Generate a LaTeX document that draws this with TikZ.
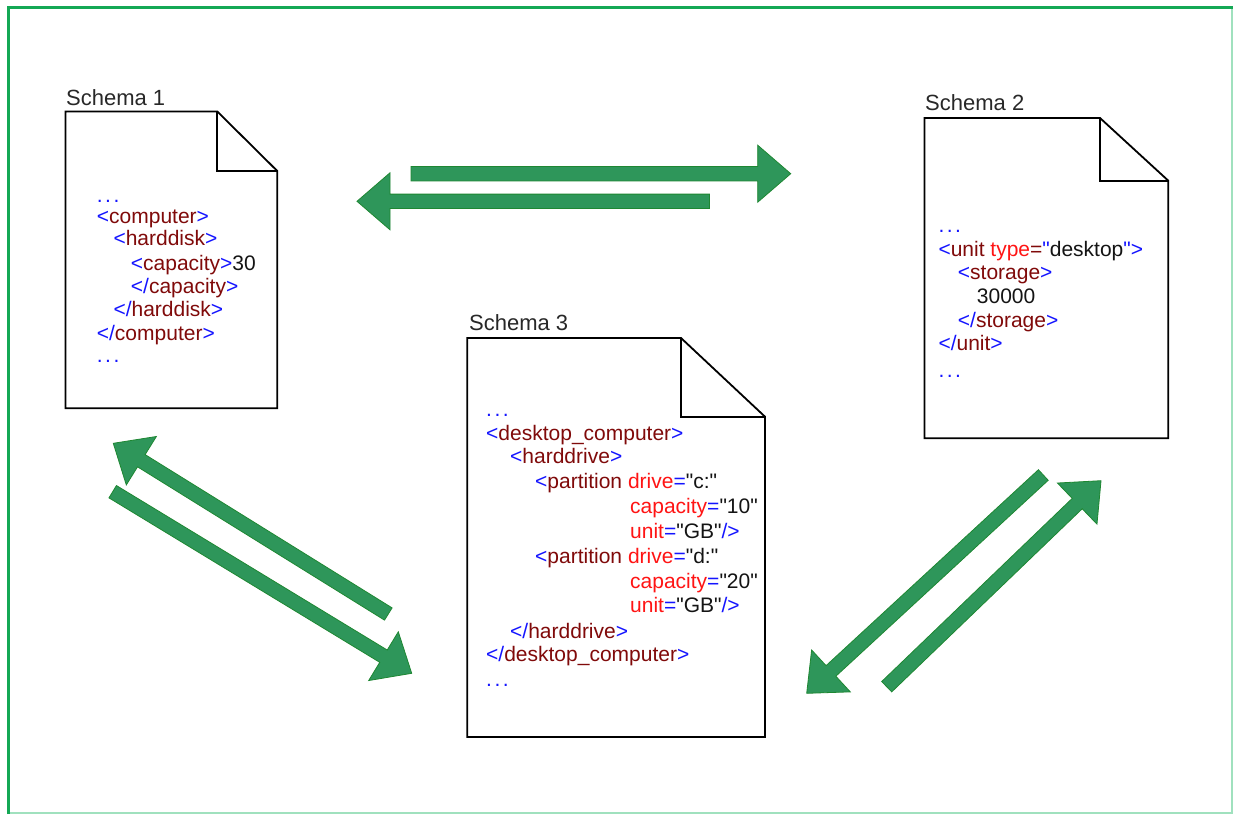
\documentclass[tikz,border=0pt]{standalone}
\usepackage{fontspec}
\setmainfont{Liberation Sans}[Ligatures=TeXOff]
\usetikzlibrary{calc,fit}

\definecolor{tagblue}{RGB}{20,20,255}
\definecolor{elemred}{RGB}{128,10,10}
\definecolor{attrred}{RGB}{255,20,20}
\definecolor{valblack}{RGB}{20,20,20}
\definecolor{labelgray}{RGB}{40,40,40}
\definecolor{arrowgreen}{RGB}{46,150,90}
\definecolor{arrowedge}{RGB}{30,135,50}
\definecolor{framedark}{RGB}{20,168,85}
\definecolor{framelight}{RGB}{160,225,190}

% colour helpers for the XML listings
\newcommand\xb[1]{\textcolor{tagblue}{#1}}
\newcommand\xe[1]{\textcolor{elemred}{#1}}
\newcommand\xa[1]{\textcolor{attrred}{#1}}
\newcommand\xv[1]{\textcolor{valblack}{#1}}
\newcommand\xdots{\xb{.\kern2.5pt.\kern2.5pt.}}

\tikzset{
  page/.style={draw=black, line width=1.8pt, line join=miter, fill=white},
  sheetbox/.style={inner sep=0pt, outer sep=0pt},
  title/.style={anchor=base west, inner sep=0pt, text=labelgray,
    font=\fontsize{22}{26}\selectfont},
  code/.style={anchor=base west, inner sep=0pt,
    font=\fontsize{21}{25}\selectfont},
  flow/.style={fill=arrowgreen, draw=arrowedge, line width=0.8pt, line join=miter},
}

% block arrow from tail coordinate #1 to tip coordinate #2
\newcommand\blockarrow[2]{%
  \coordinate (#1-hb) at ($(#2)!33pt!(#1)$);
  \filldraw[flow]
    ($(#1)!7.2pt!90:(#2)$) --
    ($(#1-hb)!7.2pt!-90:(#1)$) --
    ($(#1-hb)!28.5pt!-90:(#1)$) --
    (#2) --
    ($(#1-hb)!28.5pt!90:(#1)$) --
    ($(#1-hb)!7.2pt!90:(#1)$) --
    ($(#1)!7.2pt!-90:(#2)$) -- cycle;
}

% folded-corner sheet drawn over a fitted node
\newcommand\sheet[3]{% name, fold width, fold height
  \draw[page] (#1.north west) -- ($(#1.north east)+(-#2,0)$)
    -- ($(#1.north east)+(0,#3)$) -- (#1.south east)
    -- (#1.south west) -- cycle;
  \draw[page, fill=none] ($(#1.north east)+(-#2,0)$) |- ($(#1.north east)+(0,#3)$);
}

\begin{document}
\begin{tikzpicture}[x=1pt, y=-1pt]
\useasboundingbox (0,0) rectangle (1233,814);
\fill[white] (0,0) rectangle (1233,814);

% outer frame
\draw[framelight, line width=2pt] (1231.8,9) -- (1231.8,813) -- (9,813);
\draw[framedark, line width=2.6pt] (8.6,814) -- (8.6,7.4) -- (1233,7.4);

% sheets
\coordinate (s1nw) at (65.5,111.5);  \coordinate (s1se) at (277.3,408.3);
\coordinate (s2nw) at (924.5,118);   \coordinate (s2se) at (1168.3,438.3);
\coordinate (s3nw) at (467.3,338);   \coordinate (s3se) at (765,737);
\node[sheetbox, fit=(s1nw)(s1se)] (s1) {};
\node[sheetbox, fit=(s2nw)(s2se)] (s2) {};
\node[sheetbox, fit=(s3nw)(s3se)] (s3) {};
\sheet{s1}{60}{59.5}
\sheet{s2}{68.3}{62.7}
\sheet{s3}{84}{78.7}

\node[title] (t1) at (66,105.7) {Schema 1};
\node[title] (t2) at (925,110.7) {Schema 2};
\node[title] (t3) at (469,330.7) {Schema 3};

% Schema 1 listing
\node[code] (a1) at (96.7,202)  {\xdots};
\node[code] (a2) at (96.7,223.5)  {\xb{<}\xe{computer}\xb{>}};
\node[code] (a3) at (113.3,245.5) {\xb{<}\xe{harddisk}\xb{>}};
\node[code] (a4) at (130.7,270)   {\xb{<}\xe{capacity}\xb{>}\xv{30}};
\node[code] (a5) at (130.7,293.5) {\xb{</}\xe{capacity}\xb{>}};
\node[code] (a6) at (113.3,316.7) {\xb{</}\xe{harddisk}\xb{>}};
\node[code] (a7) at (96.7,340)   {\xb{</}\xe{computer}\xb{>}};
\node[code] (a8) at (96.7,362.3) {\xdots};

% Schema 2 listing
\node[code] (b1) at (938.3,232)  {\xdots};
\node[code] (b2) at (938.3,256)  {\xb{<}\xe{unit} \xa{type}\xe{=}\xb{"}\xv{desktop}\xb{">}};
\node[code] (b3) at (957.7,279.5) {\xb{<}\xe{storage}\xb{>}};
\node[code] (b4) at (976.7,303.3) {\xv{30000}};
\node[code] (b5) at (957.7,327)  {\xb{</}\xe{storage}\xb{>}};
\node[code] (b6) at (938.3,350.7) {\xb{</}\xe{unit}\xb{>}};
\node[code] (b7) at (938.3,377.3) {\xdots};

% Schema 3 listing
\node[code] (c1)  at (486,416)   {\xdots};
\node[code] (c2)  at (486,440)   {\xb{<}\xe{desktop\_computer}\xb{>}};
\node[code] (c3)  at (510,463.3) {\xb{<}\xe{harddrive}\xb{>}};
\node[code] (c4)  at (535,488.3) {\xb{<}\xe{partition} \xa{drive}\xb{=}\xv{"c:"}};
\node[code] (c5)  at (630,513.3) {\xa{capacity}\xb{=}\xv{"10"}};
\node[code] (c6)  at (630,538)   {\xa{unit}\xb{=}\xv{"GB"}\xb{/>}};
\node[code] (c7)  at (535,563.3) {\xb{<}\xe{partition} \xa{drive}\xb{=}\xv{"d:"}};
\node[code] (c8)  at (630,588.3) {\xa{capacity}\xb{=}\xv{"20"}};
\node[code] (c9)  at (630,612)   {\xa{unit}\xb{=}\xv{"GB"}\xb{/>}};
\node[code] (c10) at (510,638.3) {\xb{</}\xe{harddrive}\xb{>}};
\node[code] (c11) at (486,661.7) {\xb{</}\xe{desktop\_computer}\xb{>}};
\node[code] (c12) at (486,686.7) {\xdots};

% mapping arrows between the schemas
\coordinate (f12) at (411,173.7);   \coordinate (f12tip) at (790.7,173.7);
\coordinate (f21) at (709.5,201.3); \coordinate (f21tip) at (357,201.3);
\coordinate (f31) at (388.3,614);   \coordinate (f31tip) at (113.3,443.3);
\coordinate (f13) at (112.7,491.7); \coordinate (f13tip) at (411.7,673.3);
\coordinate (f23) at (1043.3,475);  \coordinate (f23tip) at (806.7,693.3);
\coordinate (f32) at (886.7,686.7); \coordinate (f32tip) at (1101,480.7);

\blockarrow{f12}{f12tip}
\blockarrow{f21}{f21tip}
\blockarrow{f31}{f31tip}
\blockarrow{f13}{f13tip}
\blockarrow{f23}{f23tip}
\blockarrow{f32}{f32tip}
\end{tikzpicture}
\end{document}
